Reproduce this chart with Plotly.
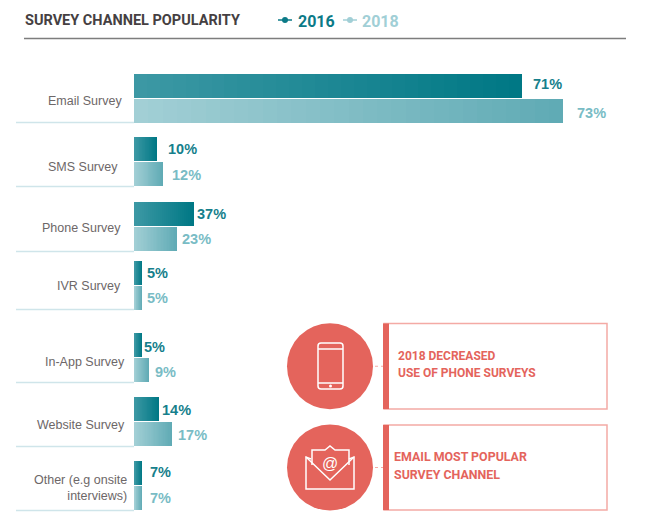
import plotly.graph_objects as go

W, H = 650, 532

# ---- data ----
categories = ["Email Survey", "SMS Survey", "Phone Survey", "IVR Survey", "In-App Survey", "Website Survey", "Other (e.g onsite<br>interviews)"]
labels_2016 = ["71%", "10%", "37%", "5%", "5%", "14%", "7%"]
labels_2018 = ["73%", "12%", "23%", "5%", "9%", "17%", "7%"]
# drawn bar lengths (the source's bars are not proportional to their printed labels)
bar_len_2016 = [71, 4.2, 11, 1.5, 1.5, 4.6, 1.5]
bar_len_2018 = [78.6, 5.3, 7.9, 1.5, 2.7, 7, 1.5]

# ---- layout helpers (styles / positions) ----
row_centres = [98, 161.5, 226.5, 285, 357, 421.5, 485.5]
row_bottoms = [122.5, 186.5, 251.5, 309.5, 382.5, 446.5, 510.5]
cat_label_right = [124, 120, 123, 123, 127, 127, 129]
cat_label_y = [101, 166.5, 228, 286, 362, 425, 488]
gap_2016 = [9, 9, 1, 3, 0, 1, 6]
gap_2018 = [12, 7, 3, 3, 4, 4, 6]
label_y_2016 = [84, 149, 214, 273, 347, 410, 472]
label_y_2018 = [113, 175, 239, 298, 372, 435, 498]
BAR_H, OFF = 24, 12.5
PX_PER_UNIT = 5.46
X0 = 134
STEPS = 30
NARROW = "Roboto"


def mix(a, b, t):
    return "rgb(%d,%d,%d)" % tuple(round(a[i] + (b[i] - a[i]) * t) for i in range(3))


def gradient_trace(name, lengths, ys, left, right):
    xs, yy, cols = [], [], []
    for k in range(STEPS):
        f = 1 - k / STEPS
        for l, y in zip(lengths, ys):
            xs.append(l * f)
            yy.append(y)
            cols.append(mix(left, right, f))
    return go.Bar(name=name, x=xs, y=yy, orientation="h", width=BAR_H,
                  marker=dict(color=cols, line=dict(width=0)), showlegend=False, hoverinfo="skip")


fig = go.Figure()
fig.add_trace(gradient_trace("2016", bar_len_2016, [c - OFF for c in row_centres], (62, 153, 165), (0, 120, 133)))
fig.add_trace(gradient_trace("2018", bar_len_2018, [c + OFF for c in row_centres], (164, 208, 214), (96, 171, 181)))


def px(x): return x / W
def py(y): return 1 - y / H
def path(pts, close=False):
    s = "M" + " L".join(f"{px(x):.5f},{py(y):.5f}" for x, y in pts)
    return s + (" Z" if close else "")


RED = "#e4645c"
PINK = "#f4aaa5"
shapes, ann = [], []


def pshape(**k):
    shapes.append(dict(xref="paper", yref="paper", **k))


def text(x, y, t, size, color, anchor="left", bold=False, family="Liberation Sans"):
    ann.append(dict(xref="paper", yref="paper", x=px(x), y=py(y), text=f"<b>{t}</b>" if bold else t,
                    showarrow=False, xanchor=anchor, yanchor="middle", align="right" if anchor == "right" else "left",
                    font=dict(size=size, color=color, family=family)))


# header
pshape(type="line", x0=px(24), x1=px(626), y0=py(38.5), y1=py(38.5), line=dict(color="#7d7d7d", width=1.5))
text(23, 20, "SURVEY CHANNEL POPULARITY", 14.5, "#453f42", bold=True, family=NARROW)
for x0, col, lab, tx in [(278, "#0b7a87", "2016", 296), (343, "#a1cfd6", "2018", 360)]:
    pshape(type="line", x0=px(x0), x1=px(x0 + 14), y0=py(20), y1=py(20), line=dict(color=col, width=1.5))
    pshape(type="circle", x0=px(x0 + 4), x1=px(x0 + 10), y0=py(17), y1=py(23), fillcolor=col, line=dict(width=0))
    text(tx, 21.5, lab, 16, col, bold=True, family=NARROW)

# category labels, underlines and value labels
for i, c in enumerate(categories):
    pshape(type="line", x0=px(16), x1=px(X0), y0=py(row_bottoms[i]), y1=py(row_bottoms[i]), line=dict(color="#cfe5ea", width=1.5))
    text(cat_label_right[i], cat_label_y[i], c, 12.5, "#6d6768", anchor="right")
    ann.append(dict(x=bar_len_2016[i], y=label_y_2016[i], xref="x", yref="y", text=f"<b>{labels_2016[i]}</b>", showarrow=False,
                    xanchor="left", xshift=gap_2016[i], font=dict(size=14.5, color="#167f8c", family="Liberation Sans")))
    ann.append(dict(x=bar_len_2018[i], y=label_y_2018[i], xref="x", yref="y", text=f"<b>{labels_2018[i]}</b>", showarrow=False,
                    xanchor="left", xshift=gap_2018[i], font=dict(size=14.5, color="#79bcc5", family="Liberation Sans")))

# callouts
for (top, bot) in [(323.5, 409), (425, 510)]:
    pshape(type="rect", x0=px(384), x1=px(607), y0=py(top), y1=py(bot), line=dict(color=PINK, width=1.5))
    pshape(type="rect", x0=px(383), x1=px(389), y0=py(top), y1=py(bot), fillcolor=RED, line=dict(width=0))
    cy = (top + bot) / 2
    pshape(type="circle", x0=px(287), x1=px(373), y0=py(cy - 43), y1=py(cy + 43), fillcolor=RED, line=dict(width=0))
    pshape(type="line", x0=px(375), x1=px(383), y0=py(cy), y1=py(cy), line=dict(color=PINK, width=1, dash="dot"))

text(396, 356, "2018 DECREASED", 12, RED, bold=True, family=NARROW)
text(396, 373, "USE OF PHONE SURVEYS", 12, RED, bold=True, family=NARROW)
text(392, 456, "EMAIL MOST POPULAR", 12.4, RED, bold=True, family=NARROW)
text(392, 474, "SURVEY CHANNEL", 12.4, RED, bold=True, family=NARROW)

# phone icon
WL = dict(color="white", width=1.5)
x1, x2, y1, y2, r = 318, 343, 343, 389, 3
phone = (f"M{px(x1+r):.5f},{py(y1):.5f} L{px(x2-r):.5f},{py(y1):.5f} Q{px(x2):.5f},{py(y1):.5f} {px(x2):.5f},{py(y1+r):.5f} "
         f"L{px(x2):.5f},{py(y2-r):.5f} Q{px(x2):.5f},{py(y2):.5f} {px(x2-r):.5f},{py(y2):.5f} "
         f"L{px(x1+r):.5f},{py(y2):.5f} Q{px(x1):.5f},{py(y2):.5f} {px(x1):.5f},{py(y2-r):.5f} "
         f"L{px(x1):.5f},{py(y1+r):.5f} Q{px(x1):.5f},{py(y1):.5f} {px(x1+r):.5f},{py(y1):.5f} Z")
pshape(type="path", path=phone, line=WL)
pshape(type="line", x0=px(x1), x1=px(x2), y0=py(349), y1=py(349), line=WL)
pshape(type="line", x0=px(x1), x1=px(x2), y0=py(383), y1=py(383), line=WL)
pshape(type="circle", x0=px(329), x1=px(332), y0=py(384.5), y1=py(387.5), fillcolor="white", line=dict(width=0))

# envelope icon
pshape(type="path", path=path([(311, 459), (306, 457), (306, 489), (354, 489), (354, 457), (349, 459)]), line=WL)
pshape(type="path", path=path([(306, 457), (330, 480), (354, 457)]), line=WL)
pshape(type="path", path=path([(312, 465), (312, 450), (325, 450), (330, 446), (335, 450), (349, 450), (349, 465)]), line=WL)
text(330, 463, "@", 16, "white", family="Liberation Sans")
ann[-1]["xanchor"] = "center"

fig.update_layout(
    width=W, height=H, autosize=False, margin=dict(l=0, r=0, t=0, b=0),
    paper_bgcolor="white", plot_bgcolor="rgba(0,0,0,0)", barmode="overlay", bargap=0,
    showlegend=False, shapes=shapes, annotations=ann,
    xaxis=dict(domain=[X0 / W, 1], range=[0, (W - X0) / PX_PER_UNIT], visible=False, fixedrange=True),
    yaxis=dict(domain=[0, 1], range=[H, 0], visible=False, fixedrange=True),
)
fig.write_html("out.html", config=dict(displayModeBar=False),
               post_script="document.body.style.margin='0';")
